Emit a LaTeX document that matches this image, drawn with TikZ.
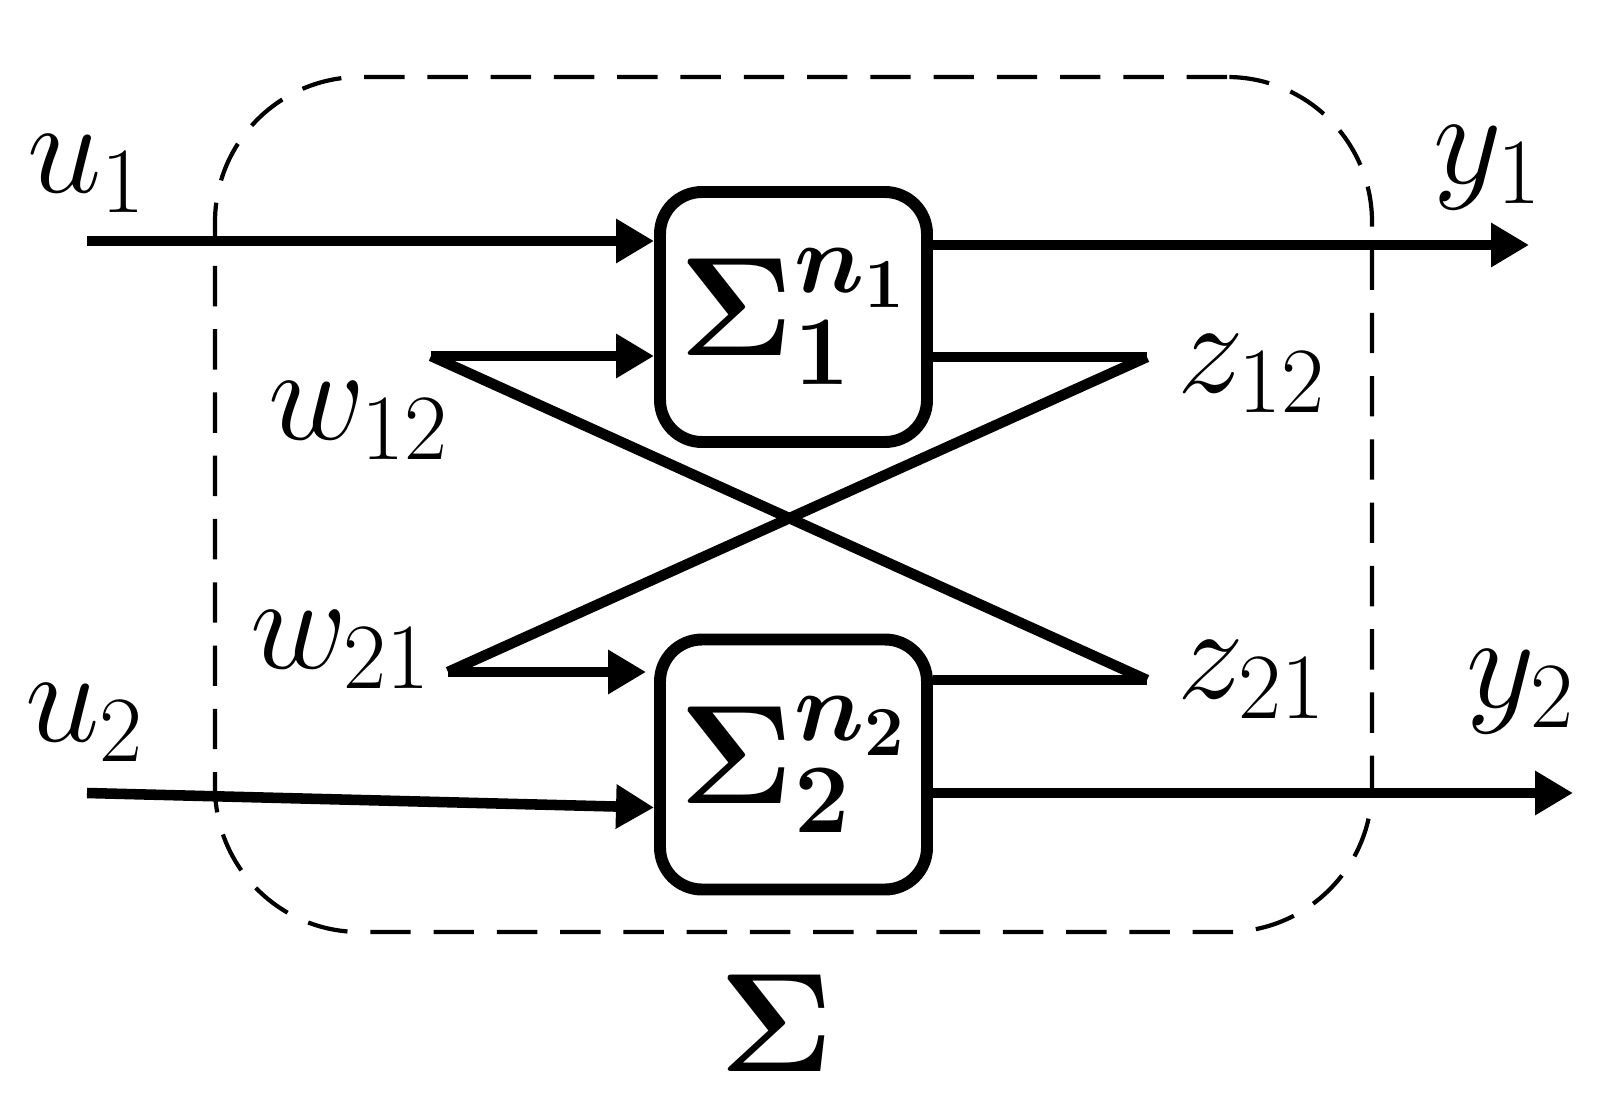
\RequirePackage{fix-cm}
\documentclass[tikz,border=0pt]{standalone}
\usepackage{amsmath,bm}
\usetikzlibrary{arrows.meta}

\tikzset{
    subsys/.style={draw, rounded corners=0.42cm, line width=3.4pt, inner sep=0pt,
                   minimum width=2.67cm, minimum height=2.5cm,
                   font=\fontsize{40}{46}\selectfont},
    sysframe/.style={draw, line width=1.2pt, dash pattern=on 11.5pt off 6.5pt,
                     rounded corners=1.45cm, minimum width=11.57cm, minimum height=8.55cm},
    sig/.style={inner sep=1pt}
}

\begin{document}
\begin{tikzpicture}[font=\fontsize{38}{44}\selectfont, >={Triangle[length=3.8mm,width=4.2mm]}, line width=3pt]
    \useasboundingbox (0,0) rectangle (16.09,-11.03);

    % overall system
    \node[sysframe](sys) at (7.935,-5.045) {};
    \node[sig, font=\fontsize{40}{46}\selectfont](Sig) at (7.77,-10.23) {$\bm{\Sigma}$};

    % the two subsystems
    \node[subsys](box1) at (7.935,-3.17) {$\bm{\Sigma_1^{n_1}}$};
    \node[subsys](box2) at (7.935,-7.645) {$\bm{\Sigma_2^{n_2}}$};

    % signal labels
    \foreach \N/\X/\Y/\T in { u1/0.87/-1.74/{u_1},
                              u2/0.85/-7.23/{u_2},
                              w12/3.59/-4.21/{w_{12}},
                              w21/3.41/-6.50/{w_{21}},
                              z12/12.52/-3.74/{z_{12}},
                              z21/12.52/-6.80/{z_{21}},
                              y1/14.88/-1.68/{y_1},
                              y2/15.21/-6.92/{y_2}
        } {
        \node[sig](\N) at (\X,\Y) {$\T$};
        }

    % free ends of the connectors
    \coordinate (u1in) at (0.87,-2.41);
    \coordinate (u2in) at (0.87,-7.93);
    \coordinate (w12a) at (4.31,-3.56);
    \coordinate (w21a) at (4.48,-6.72);
    \coordinate (z12a) at (11.47,-3.57);
    \coordinate (z21a) at (11.47,-6.80);
    \coordinate (y1out) at (15.29,-2.45);
    \coordinate (y2out) at (15.73,-7.93);

    \draw[->] (u1in) -- (u1in -| box1.west);
    \draw[->] (w12a) -- (w12a -| box1.west);
    \draw[->] (u2in) -- ([yshift=-0.43cm]box2.west);
    \draw[->, shorten >=0.08cm] (w21a) -- (w21a -| box2.west);

    \draw[->] (y1out -| box1.east) -- (y1out);
    \draw[->] (y2out -| box2.east) -- (y2out);
    \draw (z12a -| box1.east) -- (z12a);
    \draw (z21a -| box2.east) -- (z21a);

    % interconnection
    \draw (w12a) -- (z21a);
    \draw (w21a) -- (z12a);
\end{tikzpicture}
\end{document}
